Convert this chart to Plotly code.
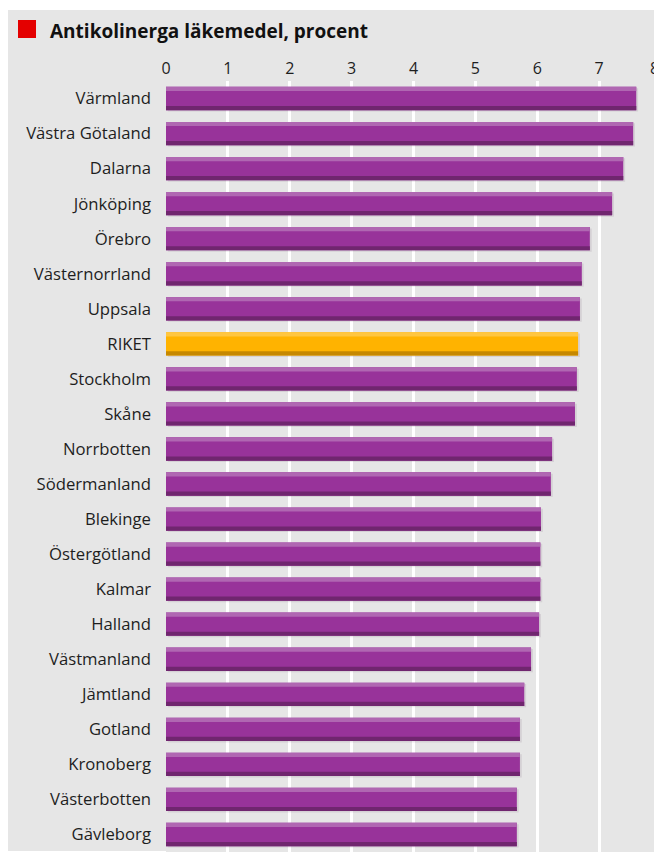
import plotly.graph_objects as go

categories = ["Värmland", "Västra Götaland", "Dalarna", "Jönköping", "Örebro",
              "Västernorrland", "Uppsala", "RIKET", "Stockholm", "Skåne",
              "Norrbotten", "Södermanland", "Blekinge", "Östergötland", "Kalmar",
              "Halland", "Västmanland", "Jämtland", "Gotland", "Kronoberg",
              "Västerbotten", "Gävleborg"]
values = [7.60, 7.55, 7.39, 7.21, 6.85, 6.72, 6.69, 6.66, 6.64, 6.61,
          6.24, 6.22, 6.06, 6.05, 6.05, 6.03, 5.90, 5.79, 5.72, 5.72,
          5.67, 5.67]
tick_vals = [0, 1, 2, 3, 4, 5, 6, 7, 8]
title_text = "Antikolinerga läkemedel, procent"

# page body adds an 8px margin; work in window pixels and shift
OFF = 8
WIN_W, WIN_H = 662, 852
W, H = WIN_W - OFF, WIN_H - OFF
ML, MR, MT, MB = 166 - OFF, 1, 81 - OFF, 0
PW, PH = W - ML - MR, H - MT - MB

def px(x):
    return (x - OFF - ML) / PW

def py(y):
    return (H - MB - (y - OFF)) / PH

main_c = ["#ffb300" if c == "RIKET" else "#98339a" for c in categories]
light_c = ["#ffc640" if c == "RIKET" else "#b067b2" for c in categories]
dark_c = ["#c68800" if c == "RIKET" else "#70266f" for c in categories]

BW = 0.665
BAND = 0.12
FONT = "Open Sans"
TXT = "#1e1e1e"

fig = go.Figure()
fig.add_trace(go.Bar(y=categories, x=values, base=0.03, orientation="h",
                     width=BW, offset=-BW / 2 + 0.04,
                     marker=dict(color="rgba(90,60,90,0.12)", line=dict(width=0)),
                     hoverinfo="skip", showlegend=False))
fig.add_trace(go.Bar(y=categories, x=values, orientation="h",
                     width=BW, offset=-BW / 2,
                     marker=dict(color=main_c, line=dict(width=0)),
                     showlegend=False))
fig.add_trace(go.Bar(y=categories, x=values, orientation="h",
                     width=BAND, offset=-BW / 2,
                     marker=dict(color=light_c, line=dict(width=0)),
                     hoverinfo="skip", showlegend=False))
fig.add_trace(go.Bar(y=categories, x=values, orientation="h",
                     width=BAND, offset=BW / 2 - BAND,
                     marker=dict(color=dark_c, line=dict(width=0)),
                     hoverinfo="skip", showlegend=False))

fig.update_layout(
    width=W, height=H,
    margin=dict(l=ML, r=MR, t=MT, b=MB, pad=0),
    barmode="overlay",
    paper_bgcolor="white",
    plot_bgcolor="#e6e6e6",
    font=dict(family=FONT, size=16, color=TXT),
    xaxis=dict(range=[0, 8], side="top", tickvals=tick_vals,
               showgrid=True, gridcolor="white", gridwidth=2.5,
               zeroline=False, showline=False, ticks="",
               ticklabelstandoff=3,
               tickfont=dict(family=FONT, size=16, color=TXT),
               fixedrange=True),
    yaxis=dict(categoryorder="array", categoryarray=categories,
               autorange="reversed", showgrid=False, zeroline=False,
               showline=False, ticks="", ticklabelstandoff=14,
               tickfont=dict(family=FONT, size=16.7, color=TXT),
               fixedrange=True),
    shapes=[
        dict(type="rect", xref="paper", yref="paper", layer="below",
             x0=px(7), x1=px(WIN_W + 5), y0=py(851), y1=py(10),
             fillcolor="#e6e6e6", line=dict(width=0)),
        dict(type="rect", xref="paper", yref="paper", layer="above",
             x0=px(18), x1=px(36), y0=py(38), y1=py(20),
             fillcolor="#e40000", line=dict(width=0)),
    ],
    annotations=[
        dict(text="<b>" + title_text + "</b>", xref="paper", yref="paper",
             x=px(48), y=py(31), xanchor="left", yanchor="middle",
             showarrow=False, font=dict(family=FONT, size=19, color="#111111")),
        # last tick label sits on the page edge; plotly hides it, so draw it
        dict(text=str(tick_vals[-1]), xref="x", yref="paper",
             x=tick_vals[-1], y=1, yshift=0, xanchor="right", yanchor="bottom",
             showarrow=False, font=dict(family=FONT, size=16, color=TXT)),
    ],
)

fig.write_html("out.html")
